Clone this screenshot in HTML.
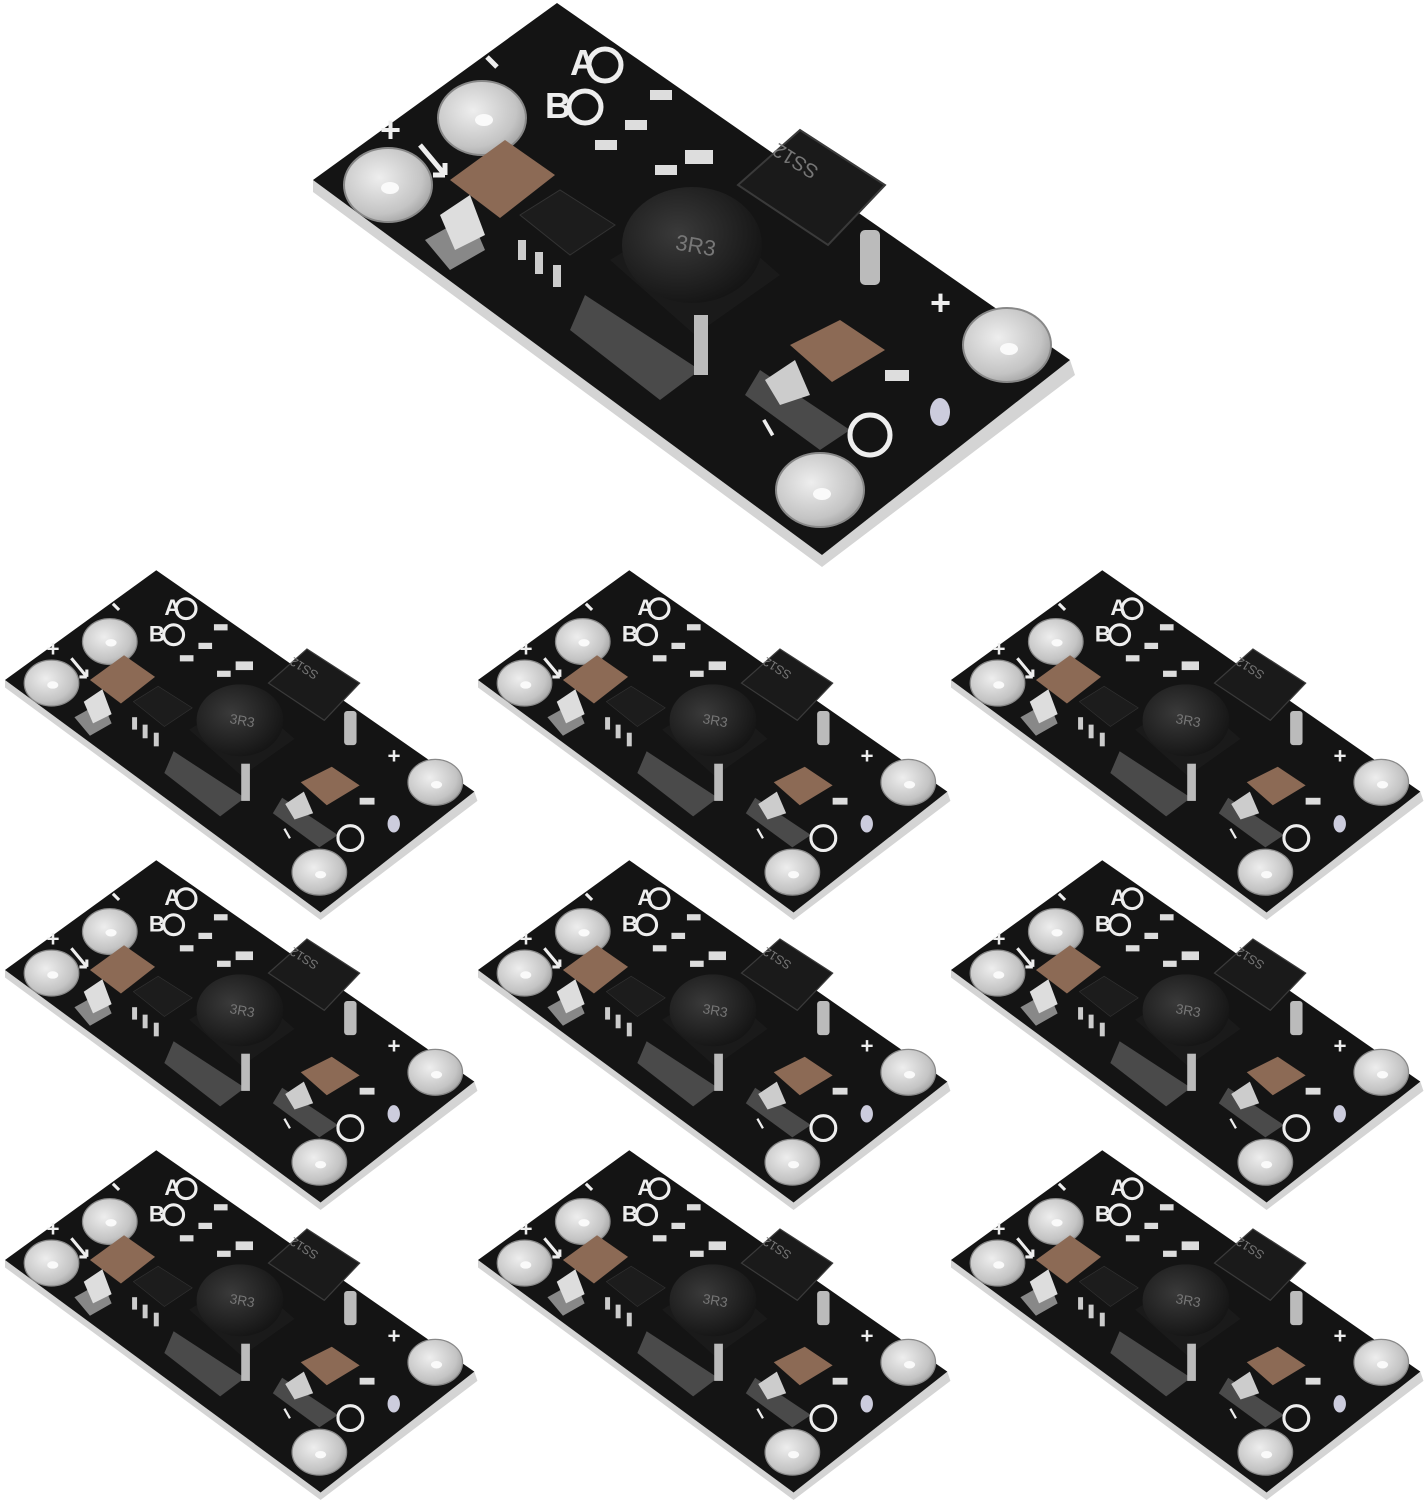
<!DOCTYPE html>
<html><head><meta charset="utf-8"><style>html,body{margin:0;padding:0;background:#fff;}svg{display:block}</style></head>
<body>
<svg width="1425" height="1500" viewBox="0 0 1425 1500" xmlns="http://www.w3.org/2000/svg" font-family="Liberation Sans, sans-serif">
<defs>
<radialGradient id="pad" cx="0.4" cy="0.4" r="0.7"><stop offset="0" stop-color="#eeeeee"/><stop offset="0.7" stop-color="#c4c4c4"/><stop offset="1" stop-color="#9a9a9a"/></radialGradient>
<radialGradient id="ind" cx="0.4" cy="0.4" r="0.7"><stop offset="0" stop-color="#3a3a3a"/><stop offset="1" stop-color="#111"/></radialGradient>
<g id="board">
  <polygon points="313,180 313,192 822,567 1075,375 1070,360 822,555" fill="#d4d4d4"/>
  <polygon points="313,180 557,3 1070,360 822,555" fill="#141414"/>
  <!-- pads -->
  <g fill="url(#pad)" stroke="#888" stroke-width="2">
    <ellipse cx="388" cy="185" rx="44" ry="37"/>
    <ellipse cx="482" cy="118" rx="44" ry="37"/>
    <ellipse cx="1007" cy="345" rx="44" ry="37"/>
    <ellipse cx="820" cy="490" rx="44" ry="37"/>
  </g>
  <g fill="#fafafa">
    <ellipse cx="390" cy="188" rx="9" ry="6"/><ellipse cx="484" cy="120" rx="9" ry="6"/>
    <ellipse cx="1009" cy="349" rx="9" ry="6"/><ellipse cx="822" cy="494" rx="9" ry="6"/>
  </g>
  <!-- footprints -->
  <polygon points="585,295 700,370 660,400 570,330" fill="#4a4a4a"/>
  <polygon points="760,370 850,430 820,450 745,395" fill="#4a4a4a"/>
  <polygon points="425,240 470,215 485,250 450,270" fill="#888"/>
  <!-- capacitor 1 -->
  <polygon points="450,180 505,140 555,175 500,218" fill="#8c6a55"/>
  <polygon points="440,215 470,195 485,235 455,250" fill="#ddd"/>
  <!-- SOT -->
  <polygon points="520,215 560,190 615,225 570,255" fill="#1c1c1c" stroke="#333"/>
  <g fill="#ccc"><rect x="518" y="240" width="8" height="20"/><rect x="535" y="252" width="8" height="22"/><rect x="553" y="265" width="8" height="22"/></g>
  <!-- inductor -->
  <polygon points="610,260 700,205 780,275 695,335" fill="#1a1a1a"/>
  <ellipse cx="692" cy="245" rx="70" ry="58" fill="url(#ind)"/>
  <text x="675" y="252" fill="#777" font-size="22" transform="rotate(10 690 248)">3R3</text>
  <rect x="694" y="315" width="14" height="60" fill="#bbb"/>
  <!-- diode -->
  <polygon points="738,185 800,130 885,185 828,245" fill="#1a1a1a" stroke="#3a3a3a" stroke-width="2"/>
  <text x="763" y="168" fill="#777" font-size="20" transform="rotate(32 790 165) rotate(180 790 160)">SS12</text>
  <rect x="860" y="230" width="20" height="55" rx="5" fill="#bbb"/>
  <!-- capacitor 2 -->
  <polygon points="790,345 840,320 885,350 832,382" fill="#8c6a55"/>
  <polygon points="765,380 795,360 810,395 780,405" fill="#ccc"/>
  <!-- small smd -->
  <g fill="#ddd">
    <rect x="655" y="165" width="22" height="10"/><rect x="625" y="120" width="22" height="10"/>
    <rect x="595" y="140" width="22" height="10"/><rect x="650" y="90" width="22" height="10"/>
    <rect x="885" y="370" width="24" height="11"/><rect x="685" y="150" width="28" height="14"/>
  </g>
  <ellipse cx="940" cy="412" rx="10" ry="14" fill="#ccd"/>
  <!-- silkscreen -->
  <g fill="none" stroke="#eee" stroke-width="5">
    <circle cx="605" cy="65" r="16"/><circle cx="585" cy="107" r="16"/>
    <circle cx="870" cy="435" r="20"/>
    <path d="M420 145 L445 175 M445 175 l-12 0 m12 0 l0 -12"/>
    <path d="M487 57 L497 67"/>
  </g>
  <text x="570" y="75" fill="#eee" font-size="36" font-weight="bold">A</text>
  <text x="545" y="118" fill="#eee" font-size="36" font-weight="bold">B</text>
  <text x="380" y="142" fill="#eee" font-size="36" font-weight="bold">+</text>
  <text x="930" y="315" fill="#eee" font-size="36" font-weight="bold">+</text>
  <text x="757" y="440" fill="#eee" font-size="36" font-weight="bold" transform="rotate(60 770 430)">–</text>
</g>
</defs>
<use href="#board"/>
<use href="#board" transform="translate(5,680) scale(0.62) translate(-313,-180)"/>
<use href="#board" transform="translate(478,680) scale(0.62) translate(-313,-180)"/>
<use href="#board" transform="translate(951,680) scale(0.62) translate(-313,-180)"/>
<use href="#board" transform="translate(5,970) scale(0.62) translate(-313,-180)"/>
<use href="#board" transform="translate(478,970) scale(0.62) translate(-313,-180)"/>
<use href="#board" transform="translate(951,970) scale(0.62) translate(-313,-180)"/>
<use href="#board" transform="translate(5,1260) scale(0.62) translate(-313,-180)"/>
<use href="#board" transform="translate(478,1260) scale(0.62) translate(-313,-180)"/>
<use href="#board" transform="translate(951,1260) scale(0.62) translate(-313,-180)"/>
</svg>
</body></html>
